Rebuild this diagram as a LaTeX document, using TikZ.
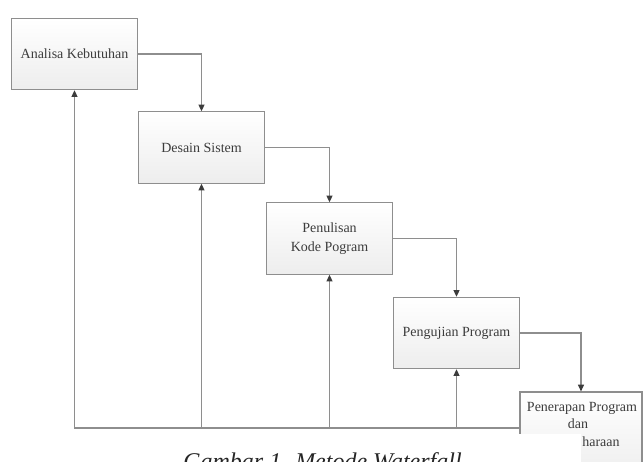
\documentclass[tikz,border=0pt]{standalone}
\usepackage{fontspec}
\setmainfont{Liberation Serif}
\usetikzlibrary{arrows.meta,positioning}

\definecolor{edgegray}{HTML}{8E8E8E}
\definecolor{txtgray}{HTML}{3C3C3C}

\tikzset{
  stage/.style={draw=edgegray, line width=0.9pt, top color=white, bottom color=gray!14,
    minimum width=95pt, minimum height=53.5pt, inner sep=2pt, align=center,
    text=txtgray, font=\fontsize{10.5}{14}\selectfont},
  stagetext/.style={inner sep=0pt, text=txtgray, font=\fontsize{10.5}{13}\selectfont},
  flow/.style={draw=edgegray, line width=0.9pt,
    -{Triangle[length=5pt,width=4.5pt,color=txtgray]}}
}

\begin{document}
\begin{tikzpicture}[x=0.75pt, y=-0.75pt]

\useasboundingbox (0,0) rectangle (643,461);

% tahapan
\node[stage] (analisa)   at (74.5,54)    {Analisa Kebutuhan};
\node[stage] (desain)    at (201.5,147.5) {Desain Sistem};
\node[stage] (penulisan) at (329.5,238.5) {Penulisan\\Kode Pogram};
\node[stage] (pengujian) at (456.5,333)   {Pengujian Program};
\node[stage, minimum width=91.5pt, minimum height=66pt] (penerapan) at (581,436) {};

% bagian bawah yang tertutup
\fill[white] (514,434) rectangle (581,470);

\node[stagetext] (penerapanA) at (582,408) {Penerapan Program};
\node[stagetext] (penerapanB) at (578,424) {dan};
\node[stagetext] (penerapanC) at (601,442) {haraan};

% alur ke bawah
\draw[flow] (analisa.east)   -| (desain.north);
\draw[flow] (desain.east)    -| (penulisan.north);
\draw[flow] (penulisan.east) -| (pengujian.north);
\draw[flow] (pengujian.east) -| (penerapan.north);

% umpan balik
\coordinate (balik) at (520,428);
\draw[flow] (balik) -| (analisa.south);
\draw[flow] (desain.south |- balik)    -- (desain.south);
\draw[flow] (penulisan.south |- balik) -- (penulisan.south);
\draw[flow] (pengujian.south |- balik) -- (pengujian.south);

% keterangan
\node[anchor=base west, inner sep=0pt, text=black!85,
  font=\fontsize{18}{21}\selectfont\itshape] (caption) at (183,469)
  {Gambar 1. Metode Waterfall};

\end{tikzpicture}
\end{document}
